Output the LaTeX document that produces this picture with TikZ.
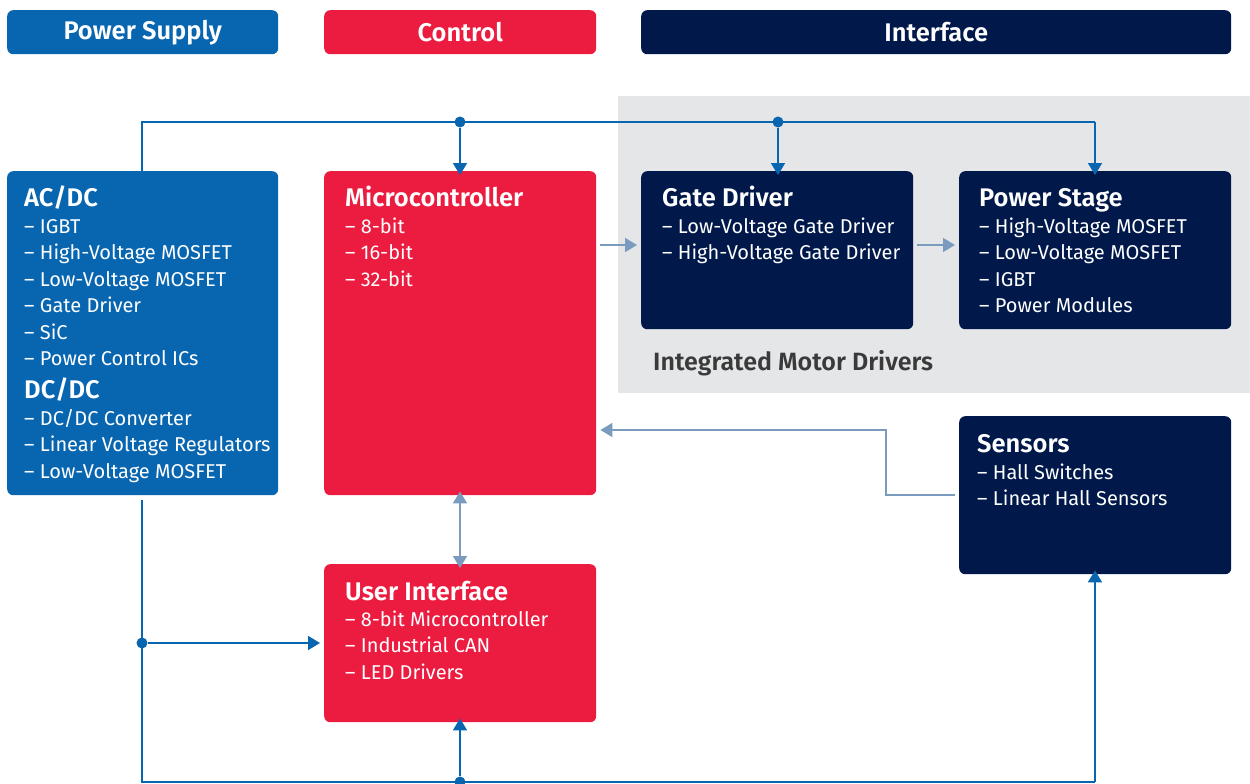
\documentclass[tikz,border=0pt]{standalone}
\usepackage{fontspec}
\setmainfont{Fira Sans}[BoldFont={Fira Sans SemiBold}]
\usetikzlibrary{arrows.meta}
\definecolor{ifxblue}{HTML}{0866B1}
\definecolor{ifxred}{HTML}{EC1C40}
\definecolor{ifxnavy}{HTML}{00194A}
\definecolor{ifxgray}{HTML}{E5E6E8}
\definecolor{ifxarrow}{HTML}{7A9BBE}
\definecolor{ifxtext}{HTML}{3A3A3A}
\tikzset{
  box/.style={rounded corners=6pt, draw=none, anchor=north west, inner sep=0pt},
  hdr/.style={box, minimum height=44pt},
  hdrT/.style={text=white, font=\fontsize{25.5}{26}\selectfont\bfseries},
  ttl/.style={anchor=base west, inner sep=0pt, text=white, font=\fontsize{25.5}{26.5}\selectfont\bfseries},
  lst/.style={anchor=base west, inner sep=0pt, text=white, align=left, font=\fontsize{20}{26.5}\selectfont},
  bus/.style={draw=ifxblue, line width=1.8pt},
  busarr/.style={bus, -{Triangle[width=14pt,length=12pt]}},
  sig/.style={draw=ifxarrow, line width=1.6pt, -{Triangle[width=14pt,length=12pt]}},
  dot/.style={circle, fill=ifxblue, inner sep=0pt, minimum size=11pt},
}
\begin{document}
\begin{tikzpicture}[x=1pt,y=-1pt]
\useasboundingbox (0,0) rectangle (1250,784);
% gray area
\fill[ifxgray] (618,96) rectangle (1250,393);
% header bars
\node[hdr, fill=ifxblue, minimum width=271pt] (hps) at (7,10) {};
\node[hdrT] (hpsT) at (hps.center) {Power Supply};
\node[hdr, fill=ifxred, minimum width=272pt] (hct) at (324,10) {};
\node[hdrT] (hctT) at (hct.center) {Control};
\node[hdr, fill=ifxnavy, minimum width=590pt] (hif) at (641,10) {};
\node[hdrT] (hifT) at (hif.center) {Interface};
% boxes
\node[box, fill=ifxblue, minimum width=271pt, minimum height=324pt] (ac) at (7,171) {};
\node[box, fill=ifxred, minimum width=272pt, minimum height=324pt] (mc) at (324,171) {};
\node[box, fill=ifxnavy, minimum width=272pt, minimum height=158pt] (gd) at (641,171) {};
\node[box, fill=ifxnavy, minimum width=272pt, minimum height=158pt] (ps) at (959,171) {};
\node[box, fill=ifxnavy, minimum width=272pt, minimum height=158pt] (se) at (959,416) {};
\node[box, fill=ifxred, minimum width=272pt, minimum height=158pt] (ui) at (324,564) {};
% texts (list nodes are placed at the baseline of their LAST line)
\node[ttl] (acT) at (24,206) {AC/DC};
\node[lst] (acL) at (24,365.5) {– IGBT\\– High-Voltage MOSFET\\– Low-Voltage MOSFET\\– Gate Driver\\– SiC\\– Power Control ICs};
\node[ttl] (dcT) at (24,398) {DC/DC};
\node[lst] (dcL) at (24,478) {– DC/DC Converter\\– Linear Voltage Regulators\\– Low-Voltage MOSFET};
\node[ttl] (mcT) at (345,206) {Microcontroller};
\node[lst] (mcL) at (345,286) {– 8-bit\\– 16-bit\\– 32-bit};
\node[ttl] (gdT) at (662,206) {Gate Driver};
\node[lst] (gdL) at (662,259.5) {– Low-Voltage Gate Driver\\– High-Voltage Gate Driver};
\node[ttl] (psT) at (979,206) {Power Stage};
\node[lst] (psL) at (979,312.5) {– High-Voltage MOSFET\\– Low-Voltage MOSFET\\– IGBT\\– Power Modules};
\node[ttl] (seT) at (977,452) {Sensors};
\node[lst] (seL) at (977,505.5) {– Hall Switches\\– Linear Hall Sensors};
\node[ttl] (uiT) at (345,600) {User Interface};
\node[lst] (uiL) at (345,679) {– 8-bit Microcontroller\\– Industrial CAN\\– LED Drivers};
\node[anchor=base west, inner sep=0pt, text=ifxtext, font=\fontsize{25}{26}\selectfont\bfseries] (imd) at (653,370) {Integrated Motor Drivers};
% bus top
\coordinate (t1) at (142,122);
\coordinate (t2) at (1095,122);
\node[dot] (d1) at (460,122) {};
\node[dot] (d2) at (778,122) {};
\draw[bus] (ac.north -| t1) -- (t1) -- (t2);
\draw[busarr] (t2) -- ([yshift=-4pt]ps.north -| t2);
\draw[busarr] (d1) -- ([yshift=-4pt]mc.north -| d1);
\draw[busarr] (d2) -- ([yshift=-4pt]gd.north -| d2);
% bus bottom
\coordinate (b0) at (142,500);
\coordinate (b1) at (142,782);
\coordinate (b2) at (1095,782);
\node[dot] (d3) at (142,643) {};
\node[dot] (d4) at (460,782) {};
\draw[bus] (b0) -- (b1) -- (b2);
\draw[busarr] (b2) -- ([yshift=4pt]se.south -| b2);
\draw[busarr] (d3) -- ([xshift=-4pt]ui.west |- d3);
\draw[busarr] (d4) -- ([yshift=4pt]ui.south -| d4);
% signal arrows
\coordinate (s1) at (886,495);
\coordinate (s2) at (886,430);
\draw[sig] ([xshift=4pt]mc.east |- 0,245) -- ([xshift=-4pt]gd.west |- 0,245);
\draw[sig] ([xshift=4pt]gd.east |- 0,245) -- ([xshift=-4pt]ps.west |- 0,245);
\draw[sig] ([xshift=-4pt]se.west |- s1) -- (s1) -- (s2) -- ([xshift=4pt]mc.east |- s2);
\draw[sig, {Triangle[width=14pt,length=12pt]}-{Triangle[width=14pt,length=12pt]}] ([yshift=4pt]mc.south -| d1) -- ([yshift=-4pt]ui.north -| d1);
\end{tikzpicture}
\end{document}
